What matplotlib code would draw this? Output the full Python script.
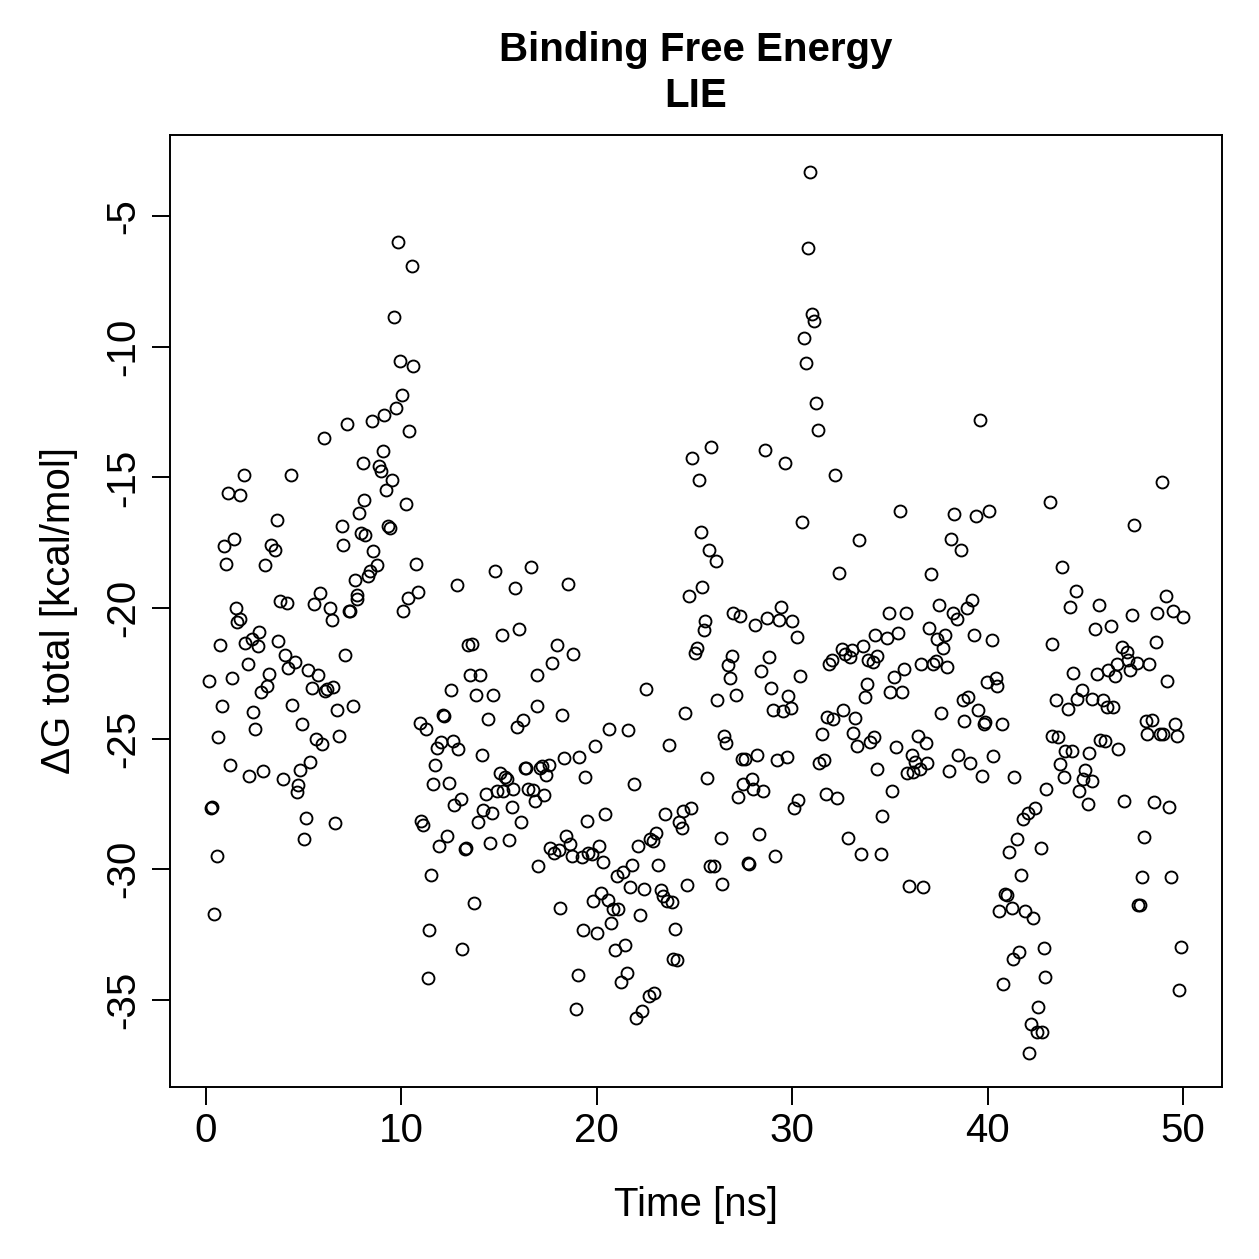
import matplotlib
matplotlib.use("Agg")
import matplotlib.pyplot as plt

plt.rcParams['font.family'] = ['Liberation Sans', 'DejaVu Sans']
plt.rcParams['axes.unicode_minus'] = False

time_ns = [
    0.14, 0.24, 0.29, 0.42, 0.55, 0.63, 0.72, 0.83, 0.94, 1.02, 1.14, 1.23, 1.33, 1.43, 1.54, 1.57,
    1.74, 1.76, 1.94, 2.00, 2.13, 2.22, 2.34, 2.42, 2.52, 2.65, 2.73, 2.81, 2.93, 3.02, 3.10, 3.22,
    3.33, 3.53, 3.62, 3.70, 3.79, 3.93, 4.04, 4.13, 4.21, 4.33, 4.42, 4.55, 4.64, 4.72, 4.83, 4.91,
    5.02, 5.12, 5.24, 5.32, 5.44, 5.53, 5.63, 5.75, 5.83, 5.94, 6.04, 6.09, 6.18, 6.35, 6.43, 6.51,
    6.62, 6.72, 6.82, 6.94, 7.03, 7.11, 7.23, 7.33, 7.37, 7.51, 7.63, 7.71, 7.74, 7.83, 7.92, 8.02,
    8.09, 8.14, 8.31, 8.39, 8.50, 8.55, 8.74, 8.87, 8.94, 9.04, 9.11, 9.21, 9.30, 9.42, 9.53, 9.62,
    9.72, 9.84, 9.93, 10.01, 10.10, 10.22, 10.35, 10.40, 10.53, 10.61, 10.73, 10.83, 10.95, 10.99,
    11.12, 11.24, 11.35, 11.43, 11.51, 11.63, 11.72, 11.81, 11.92, 12.03, 12.11, 12.20, 12.35, 12.42,
    12.52, 12.62, 12.71, 12.83, 12.91, 13.03, 13.12, 13.25, 13.31, 13.42, 13.51, 13.63, 13.73, 13.82,
    13.94, 14.02, 14.11, 14.19, 14.33, 14.42, 14.53, 14.64, 14.70, 14.79, 14.91, 15.05, 15.13, 15.18,
    15.30, 15.39, 15.52, 15.64, 15.73, 15.81, 15.90, 16.02, 16.12, 16.24, 16.33, 16.38, 16.50, 16.62,
    16.75, 16.84, 16.92, 16.95, 16.97, 17.09, 17.21, 17.31, 17.40, 17.57, 17.60, 17.73, 17.83, 17.95,
    18.08, 18.12, 18.22, 18.32, 18.41, 18.54, 18.63, 18.72, 18.80, 18.94, 19.02, 19.10, 19.23, 19.31,
    19.41, 19.51, 19.57, 19.74, 19.82, 19.92, 20.03, 20.13, 20.21, 20.30, 20.42, 20.56, 20.62, 20.73,
    20.85, 20.93, 21.02, 21.10, 21.22, 21.33, 21.44, 21.53, 21.61, 21.70, 21.82, 21.92, 22.01, 22.12,
    22.21, 22.33, 22.42, 22.52, 22.72, 22.68, 22.86, 22.93, 23.03, 23.11, 23.29, 23.37, 23.49, 23.60,
    23.71, 23.83, 23.88, 24.02, 24.09, 24.22, 24.34, 24.40, 24.51, 24.60, 24.73, 24.82, 24.90, 25.03,
    25.11, 25.23, 25.33, 25.40, 25.49, 25.54, 25.62, 25.74, 25.79, 25.85, 26.00, 26.10, 26.15, 26.34,
    26.42, 26.51, 26.61, 26.73, 26.82, 26.94, 26.99, 27.11, 27.21, 27.33, 27.41, 27.50, 27.58, 27.75,
    27.80, 27.93, 28.01, 28.11, 28.21, 28.32, 28.40, 28.52, 28.61, 28.69, 28.81, 28.92, 29.00, 29.12,
    29.20, 29.32, 29.41, 29.51, 29.63, 29.72, 29.80, 29.92, 30.00, 30.11, 30.23, 30.31, 30.40, 30.52,
    30.62, 30.71, 30.79, 30.91, 31.03, 31.13, 31.22, 31.34, 31.39, 31.51, 31.63, 31.71, 31.80, 31.90,
    32.02, 32.10, 32.19, 32.31, 32.41, 32.53, 32.61, 32.70, 32.84, 32.96, 33.05, 33.13, 33.21, 33.30,
    33.43, 33.52, 33.61, 33.73, 33.81, 33.90, 33.98, 34.12, 34.19, 34.24, 34.32, 34.35, 34.60, 34.55,
    34.84, 34.95, 35.00, 35.11, 35.21, 35.31, 35.40, 35.52, 35.60, 35.74, 35.82, 35.86, 35.99, 36.12,
    36.20, 36.28, 36.42, 36.54, 36.59, 36.71, 36.83, 36.91, 37.02, 37.10, 37.22, 37.34, 37.40, 37.51,
    37.60, 37.70, 37.82, 37.91, 38.01, 38.11, 38.21, 38.30, 38.42, 38.50, 38.62, 38.72, 38.81, 38.93,
    39.01, 39.10, 39.22, 39.32, 39.41, 39.52, 39.61, 39.70, 39.82, 39.87, 39.95, 40.09, 40.21, 40.29,
    40.43, 40.50, 40.60, 40.72, 40.80, 40.89, 40.98, 41.11, 41.23, 41.31, 41.37, 41.52, 41.62, 41.71,
    41.80, 41.91, 42.08, 42.12, 42.22, 42.31, 42.43, 42.51, 42.60, 42.72, 42.80, 42.89, 42.94, 42.99,
    43.19, 43.28, 43.30, 43.50, 43.62, 43.71, 43.82, 43.91, 43.96, 44.10, 44.22, 44.30, 44.39, 44.51,
    44.59, 44.69, 44.81, 44.87, 44.98, 45.12, 45.20, 45.33, 45.36, 45.50, 45.61, 45.70, 45.75, 45.92,
    46.01, 46.10, 46.18, 46.30, 46.40, 46.52, 46.61, 46.69, 46.89, 47.00, 47.12, 47.20, 47.29, 47.41,
    47.51, 47.63, 47.71, 47.80, 47.89, 48.00, 48.11, 48.17, 48.28, 48.40, 48.52, 48.60, 48.68, 48.82,
    48.91, 48.99, 49.11, 49.20, 49.30, 49.39, 49.50, 49.59, 49.68, 49.80, 49.90, 50.02,
]

dg_total = [
    -22.78, -27.68, -27.62, -31.72, -29.51, -24.93, -21.43, -23.76, -17.63, -18.33, -15.59, -26.00, -22.67, -17.35, -19.99, -20.53,
    -15.68, -20.44, -14.92, -21.33, -22.13, -26.44, -21.17, -23.98, -24.63, -21.44, -20.93, -23.21, -26.25, -18.36, -23.00, -22.51,
    -17.59, -17.76, -16.64, -21.25, -19.74, -26.54, -21.81, -19.80, -22.29, -14.89, -23.70, -22.08, -27.06, -26.79, -26.19, -24.46,
    -28.84, -28.05, -22.36, -25.89, -23.05, -19.83, -25.00, -22.55, -19.44, -25.20, -13.48, -23.19, -23.12, -19.99, -20.47, -23.02,
    -28.22, -23.89, -24.91, -16.84, -17.59, -21.81, -12.97, -20.12, -20.10, -23.76, -18.91, -19.67, -19.51, -16.35, -17.11, -14.46,
    -15.88, -17.21, -18.76, -18.59, -12.84, -17.82, -18.37, -14.57, -14.76, -13.99, -12.61, -15.49, -16.84, -16.93, -15.08, -8.84,
    -12.34, -5.96, -10.52, -11.85, -20.10, -16.00, -19.61, -13.23, -6.90, -10.74, -18.33, -19.39, -24.40, -28.17,
    -28.33, -24.62, -34.17, -32.34, -30.22, -26.74, -26.02, -25.36, -29.13, -25.14, -24.08, -24.12, -28.74, -26.71,
    -23.15, -25.08, -27.53, -19.10, -25.40, -27.31, -33.05, -29.23, -29.19, -21.43, -22.55, -21.37, -31.32, -23.34,
    -28.19, -22.57, -25.64, -27.72, -27.11, -24.27, -29.00, -27.85, -23.34, -18.59, -27.02, -26.31, -21.02, -27.02,
    -26.48, -26.57, -28.87, -27.62, -26.93, -19.23, -24.55, -20.82, -28.20, -24.30, -26.12, -26.12, -26.93, -18.42,
    -26.98, -27.40, -22.55, -23.76, -29.87, -26.12, -26.06, -27.17, -26.41, -26.01, -29.19, -22.10, -29.38, -21.40,
    -29.28, -31.51, -24.09, -25.74, -28.74, -19.07, -29.03, -29.51, -21.78, -35.38, -34.07, -25.69, -29.55, -32.32,
    -26.48, -28.17, -29.38, -29.44, -31.21, -25.29, -32.44, -29.13, -30.91, -29.72, -27.91, -31.20, -24.62, -32.06,
    -31.55, -33.12, -30.28, -31.55, -34.34, -30.12, -32.92, -34.00, -24.66, -30.68, -29.83, -26.76, -35.70, -29.10,
    -31.78, -35.45, -30.76, -23.12, -28.84, -34.87, -28.93, -34.74, -28.61, -29.83, -30.79, -31.04, -27.88, -31.23,
    -25.26, -31.27, -33.43, -32.29, -33.49, -28.20, -28.44, -27.79, -24.02, -30.63, -19.55, -27.66, -14.27, -21.74,
    -21.53, -15.08, -17.10, -19.19, -20.85, -20.51, -26.51, -17.76, -29.87, -13.84, -29.89, -18.21, -23.53, -28.83,
    -30.56, -24.91, -25.19, -22.18, -22.67, -21.85, -20.18, -23.34, -27.23, -20.29, -25.78, -26.74, -25.80, -29.76,
    -29.79, -26.57, -26.92, -20.66, -25.64, -28.65, -22.42, -27.00, -13.93, -20.40, -21.87, -23.06, -23.92, -29.51,
    -25.84, -20.47, -19.95, -23.93, -14.44, -25.70, -23.38, -23.82, -20.48, -27.68, -21.10, -27.34, -22.59, -16.70,
    -9.67, -10.63, -6.20, -3.29, -8.75, -9.01, -12.16, -13.19, -25.93, -24.82, -25.83, -27.11, -24.18, -22.16,
    -22.01, -24.27, -14.91, -27.29, -18.65, -21.56, -23.89, -21.75, -28.80, -21.88, -21.59, -24.78, -24.23, -25.29,
    -17.40, -29.41, -21.44, -23.40, -22.93, -22.01, -25.14, -22.08, -24.95, -21.05, -21.85, -26.15, -27.98, -29.42,
    -21.14, -20.21, -23.21, -27.02, -22.64, -25.33, -20.95, -16.29, -23.23, -22.33, -20.18, -26.31, -30.66, -25.64,
    -26.28, -25.89, -24.89, -26.16, -22.16, -30.68, -25.19, -25.93, -20.76, -18.69, -22.16, -22.04, -21.17, -19.90,
    -24.02, -21.53, -21.04, -22.25, -26.25, -17.35, -20.18, -16.39, -20.41, -25.64, -17.76, -23.51, -24.34, -19.99,
    -23.40, -25.93, -19.70, -21.02, -16.48, -23.92, -12.80, -26.44, -24.46, -24.36, -22.83, -16.29, -21.23, -25.68,
    -22.67, -23.00, -31.59, -24.46, -34.40, -30.94, -30.98, -29.36, -31.51, -33.43, -26.46, -28.84, -33.17, -30.22,
    -28.08, -31.62, -27.85, -37.04, -35.93, -31.87, -27.66, -36.24, -35.28, -29.21, -36.24, -33.02, -34.14, -26.92,
    -15.95, -24.89, -21.37, -23.51, -24.94, -25.96, -18.42, -26.47, -25.49, -23.86, -19.95, -25.49, -22.48, -19.36,
    -23.47, -27.02, -23.15, -26.54, -26.21, -27.49, -25.55, -26.64, -23.48, -20.79, -22.52, -19.89, -25.04, -23.51,
    -25.10, -23.80, -22.39, -20.70, -23.80, -22.61, -22.14, -25.42, -21.50, -27.38, -21.68, -22.01, -22.39, -20.25,
    -16.83, -22.10, -31.36, -31.36, -30.30, -28.77, -24.34, -24.81, -22.14, -24.30, -27.44, -21.31, -20.18, -24.81,
    -15.16, -24.81, -19.55, -22.80, -27.62, -30.30, -20.10, -24.44, -24.89, -34.64, -33.00, -20.35,
]

x_ticks = [0, 10, 20, 30, 40, 50]
y_ticks = [-35, -30, -25, -20, -15, -10, -5]

FS = 29.0

W = H = 1259
fig = plt.figure(figsize=(W / 100, H / 100), dpi=100)
ax = fig.add_axes([170 / W, (W - 1087) / H, (1222 - 170) / W, (1087 - 135) / H])

ax.plot(time_ns, dg_total, linestyle='none', marker='o', markersize=8.6,
        markerfacecolor='none', markeredgecolor='black', markeredgewidth=1.35)

ax.set_xlim(-1.84, 52.0)
ax.set_ylim(-38.35, -1.88)

ax.set_xticks(x_ticks)
ax.set_xticklabels([str(v) for v in x_ticks])
ax.set_yticks(y_ticks)
ax.set_yticklabels([str(v) for v in y_ticks], rotation=90, va='center')

for sp in ax.spines.values():
    sp.set_linewidth(1.4)
ax.tick_params(axis='both', direction='out', length=13, width=1.4, labelsize=FS)
ax.tick_params(axis='x', pad=5)
ax.tick_params(axis='y', pad=7)

ax.set_xlabel('Time [ns]', fontsize=FS)
ax.xaxis.label.set_va('baseline')
ax.xaxis.set_label_coords(0.5, (1087 - 1216) / 952)
ax.set_ylabel('ΔG total [kcal/mol]', fontsize=FS)
ax.yaxis.label.set_va('baseline')
ax.yaxis.set_label_coords((70 - 170) / 1052, 0.5)

cx = (170 + 1222) / 2 / W
fig.text(cx, 1 - 61 / H, 'Binding Free Energy', ha='center', va='baseline',
         fontsize=FS, fontweight='bold')
fig.text(cx, 1 - 107 / H, 'LIE', ha='center', va='baseline',
         fontsize=FS, fontweight='bold')

fig.savefig('out.png', dpi=100)
